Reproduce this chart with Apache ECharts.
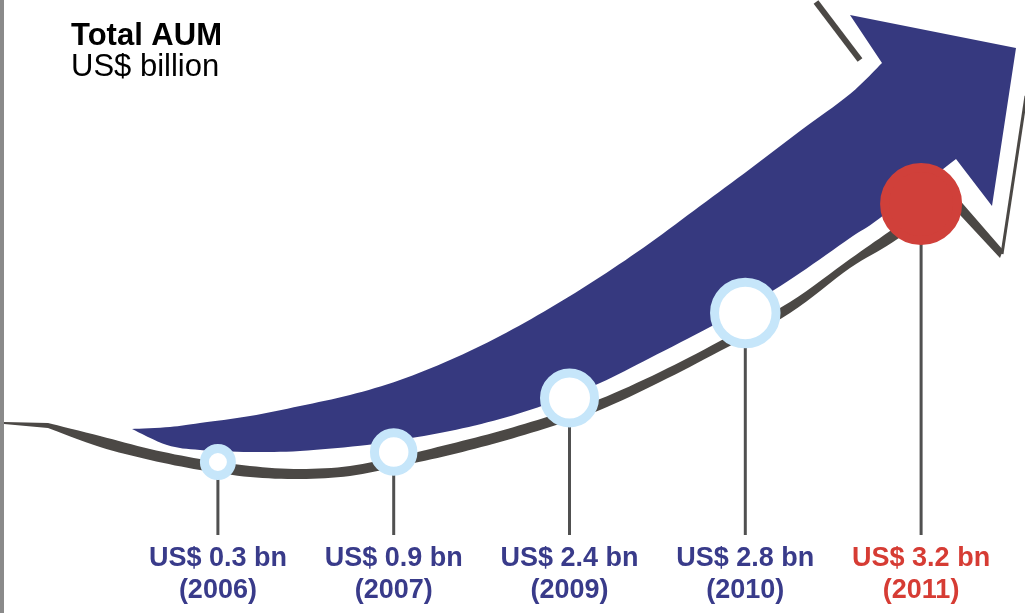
<!DOCTYPE html>
<html>
<head>
<meta charset="utf-8">
<script src="https://cdn.jsdelivr.net/npm/echarts@6/dist/echarts.min.js"></script>
<style>
  html, body { margin: 0; padding: 0; background: #fff; }
  #chart { width: 1025px; height: 613px; }
</style>
</head>
<body>
<div id="chart"></div>
<script>
const years = ["2006", "2007", "2009", "2010", "2011"];
const aumValues = [0.3, 0.9, 2.4, 2.8, 3.2];
// how far each pin stands above the label line
const stemHeights = [73, 83, 137, 222, 331];

const NAVY = "#36397f";
const NAVY_TEXT = "#393b8a";
const RED = "#d0403a";
const RED_TEXT = "#d63c34";
const GREY = "#4b4845";
const RING = "#c6e6fa";
const FONT = "'Liberation Sans', Arial, sans-serif";

const chart = echarts.init(document.getElementById("chart"));

// catmull-rom densify so the swoosh edges come out smooth
function curve(pts, steps) {
  const out = [];
  const n = pts.length;
  for (let i = 0; i < n - 1; i++) {
    const p0 = pts[Math.max(i - 1, 0)], p1 = pts[i], p2 = pts[i + 1], p3 = pts[Math.min(i + 2, n - 1)];
    for (let s = 0; s < steps; s++) {
      const t = s / steps, t2 = t * t, t3 = t2 * t;
      const f = (a, b, c, d) =>
        0.5 * (2 * b + (-a + c) * t + (2 * a - 5 * b + 4 * c - d) * t2 + (-a + 3 * b - 3 * c + d) * t3);
      out.push([f(p0[0], p1[0], p2[0], p3[0]), f(p0[1], p1[1], p2[1], p3[1])]);
    }
  }
  out.push(pts[n - 1]);
  return out;
}

// decorative swoosh arrow (navy body + grey shadow stroke)
const arrowTop = curve([
  [132, 429], [170, 427], [200, 423], [250, 416], [300, 406], [350, 395],
  [400, 380], [450, 360], [500, 336], [550, 308], [600, 277], [650, 243],
  [700, 206], [750, 169], [800, 131], [850, 94], [882, 63]
], 8);
const arrowHead = [[850, 15], [1016, 48], [992, 206]];
const arrowBottom = curve([
  [956, 159], [880, 218], [850, 238], [800, 273], [750, 305], [710, 327],
  [650, 358], [600, 383], [550, 403], [500, 419], [450, 431], [400, 440],
  [367, 445], [300, 451], [250, 452], [200, 450], [167, 445], [132, 429]
], 8);
const shadowTop = [[4, 422]].concat(curve([
  [48, 423], [100, 436], [150, 449], [200, 459], [250, 466],
  [300, 469], [350, 466], [400, 456], [450, 444], [500, 431], [550, 416],
  [600, 399], [660, 372], [720, 341], [790, 302], [850, 259], [890, 231],
  [950, 189]
], 8), [[1003, 250]]);
const shadowBottom = [[1000, 258]].concat(curve([
  [948, 202], [893, 242], [850, 268], [790, 313], [720, 351],
  [660, 382], [600, 410], [550, 427], [500, 442], [450, 455], [400, 466],
  [350, 476], [300, 479], [250, 477], [200, 470], [150, 460], [100, 447],
  [48, 428]
], 8), [[4, 424]]);

const last = years.length - 1;

const option = {
  backgroundColor: "#fff",
  animation: false,
  title: {
    text: "Total AUM",
    subtext: "US$ billion",
    left: 71,
    top: 19,
    padding: 0,
    itemGap: -3,
    textStyle: { fontFamily: FONT, fontSize: 31, fontWeight: "bold", color: "#000", lineHeight: 34 },
    subtextStyle: { fontFamily: FONT, fontSize: 31, color: "#000", lineHeight: 34 }
  },
  graphic: [
    { type: "rect", shape: { x: 0, y: 0, width: 4, height: 613 }, style: { fill: "#8a8a8a" } },
    {
      type: "polygon",
      shape: { points: shadowTop.concat(shadowBottom) },
      style: { fill: GREY }
    },
    {
      type: "line",
      shape: { x1: 1002, y1: 254, x2: 1026, y2: 96 },
      style: { stroke: GREY, lineWidth: 3 }
    },
    {
      type: "line",
      shape: { x1: 816, y1: 2, x2: 860, y2: 60 },
      style: { stroke: GREY, lineWidth: 6 }
    },
    {
      type: "polygon",
      shape: { points: arrowTop.concat(arrowHead, arrowBottom) },
      style: { fill: NAVY }
    }
  ],
  grid: { left: 130, right: 16, top: 0, bottom: 78 },
  xAxis: {
    type: "category",
    data: years,
    axisLine: { show: false },
    axisTick: { show: false },
    splitLine: { show: false },
    axisLabel: {
      interval: 0,
      margin: 8,
      formatter: (val, idx) => {
        const k = idx === last ? "r" : "n";
        return `{${k}|US$ ${aumValues[idx].toFixed(1)} bn}\n{${k}|(${val})}`;
      },
      rich: {
        n: { fontFamily: FONT, fontSize: 27, fontWeight: "bold", color: NAVY_TEXT, lineHeight: 32 },
        r: { fontFamily: FONT, fontSize: 27, fontWeight: "bold", color: RED_TEXT, lineHeight: 32 }
      }
    }
  },
  yAxis: { type: "value", min: 0, max: 535, show: false },
  series: [
    {
      // pin stems
      type: "bar",
      data: stemHeights,
      barWidth: 3,
      itemStyle: { color: "#505050" },
      silent: true
    },
    {
      // pin heads, growing with each year
      type: "scatter",
      data: stemHeights.map((h, i) =>
        i === last ? { value: h, itemStyle: { color: RED, borderColor: RED } } : h
      ),
      symbol: "circle",
      symbolSize: (v, p) => 27 + 11.5 * p.dataIndex,
      itemStyle: { color: "#fff", borderColor: RING, borderWidth: 9, opacity: 1 },
      silent: true
    }
  ]
};

chart.setOption(option);
</script>
</body>
</html>
